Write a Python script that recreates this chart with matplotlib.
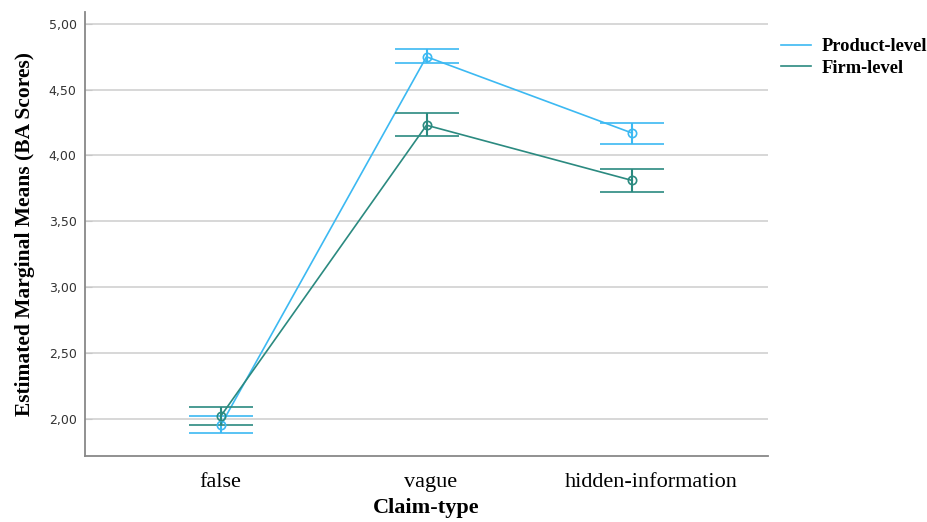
import numpy as np
import matplotlib.pyplot as plt

claim_types = ["false", "vague", "hidden-information"]

# estimated marginal means with 95% CI bounds
product_mean = [1.95, 4.75, 4.17]
product_low = [1.89, 4.70, 4.09]
product_high = [2.02, 4.81, 4.25]

firm_mean = [2.02, 4.23, 3.81]
firm_low = [1.95, 4.15, 3.72]
firm_high = [2.09, 4.32, 3.90]

yticks = [2.0, 2.5, 3.0, 3.5, 4.0, 4.5, 5.0]
ytick_labels = ["2,00", "2,50", "3,00", "3,50", "4,00", "4,50", "5,00"]

blue = "#3cb9f2"
teal = "#2b8a80"

fig = plt.figure(figsize=(9.28, 5.22), dpi=100)
ax = fig.add_axes([0.0916, 0.126, 0.736, 0.851])

x = np.arange(len(claim_types))
for mean, low, high, col, lab in [
    (product_mean, product_low, product_high, blue, "Product-level"),
    (firm_mean, firm_low, firm_high, teal, "Firm-level"),
]:
    mean = np.array(mean)
    err = [mean - np.array(low), np.array(high) - mean]
    ax.plot(x, mean, color=col, lw=1.2, label=lab, zorder=3)
    ax.errorbar(x, mean, yerr=err, fmt="o", color=col, mfc="none", ms=6,
                mew=1.2, elinewidth=1.5, capsize=23, capthick=1.8, zorder=3)

ax.set_xlim(-0.66, 2.66)
ax.set_ylim(1.715, 5.09)
ax.set_xticks(x)
ax.set_xticklabels([])
# category labels, nudged a little to the right like SPSS does
for xi, name, dx in zip(x, claim_types, [-1, 4, 19]):
    ax.annotate(name, xy=(xi, 0), xycoords=("data", "axes fraction"),
                xytext=(dx, -17), textcoords="offset pixels", ha="center", va="top",
                fontfamily="Liberation Serif", fontsize=16)
ax.set_yticks(yticks)
ax.set_yticklabels(ytick_labels, fontsize=9, color="#333333")
ax.tick_params(axis="x", length=0, pad=0)
ax.tick_params(axis="y", direction="in", length=5, color="#c8c8c8", pad=6)

ax.grid(axis="y", color="#d4d4d4", lw=1.3, zorder=0)
for s in ["top", "right"]:
    ax.spines[s].set_visible(False)
for s in ["left", "bottom"]:
    ax.spines[s].set_color("#888888")
    ax.spines[s].set_linewidth(1.3)

ax.set_xlabel("Claim-type", fontfamily="Liberation Serif", fontweight="bold",
              fontsize=16)
ax.xaxis.set_label_coords(0.5, -0.094)
ax.xaxis.label.set_va("top")
ax.set_ylabel("Estimated Marginal Means (BA Scores)", fontfamily="Liberation Serif",
              fontweight="bold", fontsize=15.5, labelpad=10)

leg = fig.legend(loc="upper left", bbox_to_anchor=(781 / 928, 1 - 38 / 522),
                 bbox_transform=fig.transFigure, frameon=False,
                 prop={"family": "Liberation Serif", "weight": "bold", "size": 13.3},
                 handlelength=1.6, handletextpad=0.6, labelspacing=0.25,
                 borderpad=0, borderaxespad=0)
for h in leg.get_lines():
    h.set_linewidth(1.2)

fig.savefig("out.png", dpi=100)
